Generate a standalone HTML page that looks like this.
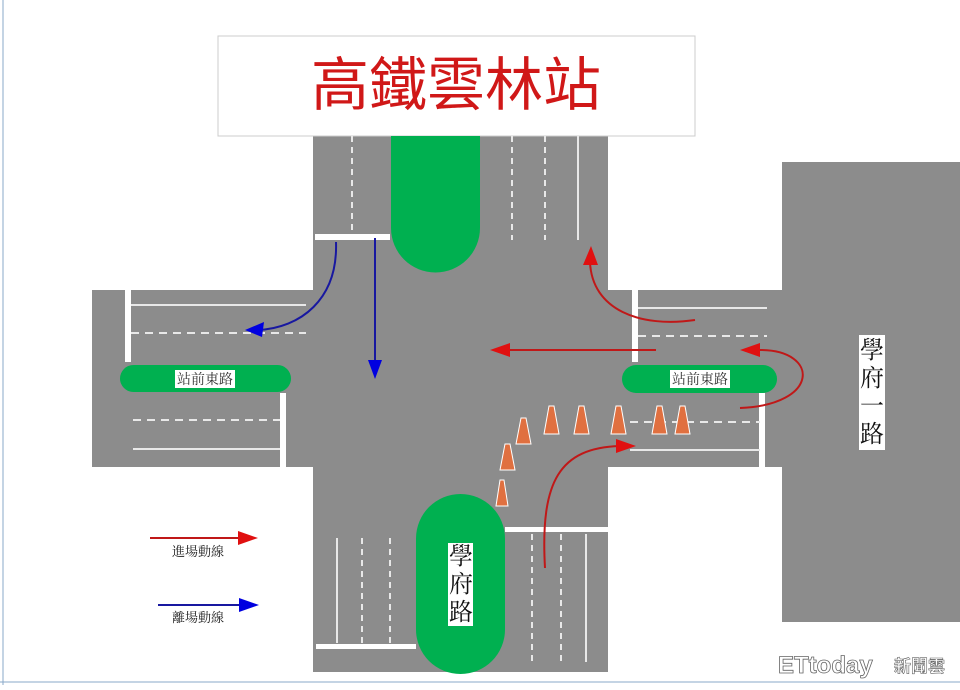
<!DOCTYPE html>
<html><head><meta charset="utf-8"><style>
body{margin:0;width:960px;height:685px;overflow:hidden;background:#fff;font-family:"Liberation Sans","Noto Sans CJK TC",sans-serif}
</style></head><body>
<svg width="960" height="685" viewBox="0 0 960 685" xmlns="http://www.w3.org/2000/svg" font-family="Liberation Serif, Noto Serif CJK SC, serif">
<line x1="3" y1="0" x2="3" y2="685" stroke="#8aa8c8"/>
<line x1="0" y1="682" x2="960" y2="682" stroke="#8aa8c8"/>
<g fill="#8c8c8c">
<rect x="313" y="136" width="295" height="536"/>
<rect x="92" y="290" width="690" height="177"/>
<rect x="782" y="162" width="178" height="460"/>
</g>
<rect x="218" y="36" width="477" height="100" fill="#fff" stroke="#ccc"/>
<text x="456" y="105" font-family="Liberation Sans, Noto Sans CJK TC, sans-serif" font-size="58" fill="#d01818" text-anchor="middle">高鐵雲林站</text>
<g fill="#fff">
<rect x="315" y="234" width="75" height="6"/>
<rect x="125" y="290" width="6" height="72"/>
<rect x="280" y="393" width="6" height="74"/>
<rect x="632" y="290" width="6" height="72"/>
<rect x="759" y="393" width="6" height="74"/>
<rect x="505" y="527" width="103" height="5"/>
<rect x="316" y="644" width="100" height="5"/>
</g>
<g stroke="#e8e8e8" stroke-width="2" fill="none">
<line x1="352" y1="136" x2="352" y2="234" stroke-dasharray="6,5"/>
<line x1="512" y1="136" x2="512" y2="240" stroke-dasharray="6,5"/>
<line x1="545" y1="136" x2="545" y2="240" stroke-dasharray="6,5"/>
<line x1="578" y1="136" x2="578" y2="240"/>
<line x1="337" y1="538" x2="337" y2="643"/>
<line x1="362" y1="538" x2="362" y2="643" stroke-dasharray="6,5"/>
<line x1="390" y1="538" x2="390" y2="643" stroke-dasharray="6,5"/>
<line x1="532" y1="534" x2="532" y2="662" stroke-dasharray="6,5"/>
<line x1="561" y1="534" x2="561" y2="662" stroke-dasharray="6,5"/>
<line x1="586" y1="534" x2="586" y2="662"/>
<line x1="131" y1="305" x2="306" y2="305"/>
<line x1="131" y1="333" x2="306" y2="333" stroke-dasharray="8,6"/>
<line x1="133" y1="420" x2="280" y2="420" stroke-dasharray="8,6"/>
<line x1="133" y1="449" x2="280" y2="449"/>
<line x1="638" y1="308" x2="767" y2="308"/>
<line x1="638" y1="336" x2="767" y2="336" stroke-dasharray="8,6"/>
<line x1="630" y1="422" x2="760" y2="422" stroke-dasharray="8,6"/>
<line x1="630" y1="450" x2="760" y2="450"/>
</g>
<g fill="#00b050">
<path d="M391,136 L480,136 L480,228 A44.5,44.5 0 0 1 391,228 Z"/>
<rect x="416" y="494" width="89" height="180" rx="44.5"/>
<rect x="120" y="365" width="171" height="27" rx="13.5"/>
<rect x="622" y="365" width="155" height="28" rx="14"/>
</g>
<rect x="175" y="370" width="60" height="18" fill="#fff"/>
<text x="205" y="384" font-size="14" text-anchor="middle" fill="#333">站前東路</text>
<rect x="670" y="370" width="60" height="18" fill="#fff"/>
<text x="700" y="384" font-size="14" text-anchor="middle" fill="#333">站前東路</text>
<rect x="448" y="543" width="25" height="83" fill="#fff"/>
<g font-size="24" fill="#111" text-anchor="middle"><text x="461" y="564">學</text><text x="461" y="592">府</text><text x="461" y="620">路</text></g>
<rect x="859" y="335" width="26" height="115" fill="#fff"/>
<g font-size="24" fill="#111" text-anchor="middle"><text x="872" y="358">學</text><text x="872" y="386">府</text><text x="872" y="414">一</text><text x="872" y="442">路</text></g>
<g fill="#e07040" stroke="#fff" stroke-width="1">
<path d="M496,506 L500,480 L504,480 L508,506 Z"/>
<path d="M500,470 L505,444 L510,444 L515,470 Z"/>
<path d="M516,444 L521,418 L526,418 L531,444 Z"/>
<path d="M544,434 L549,406 L554,406 L559,434 Z"/>
<path d="M574,434 L579,406 L584,406 L589,434 Z"/>
<path d="M611,434 L616,406 L621,406 L626,434 Z"/>
<path d="M652,434 L657,406 L662,406 L667,434 Z"/>
<path d="M675,434 L680,406 L685,406 L690,434 Z"/>
</g>
<g stroke="#c01818" stroke-width="2" fill="none">
<path d="M695,320 C640,328 592,310 590,262" />
<line x1="656" y1="350" x2="500" y2="350"/>
<path d="M740,408 C820,405 820,350 760,350"/>
<path d="M545,568 C540,480 560,448 620,446"/>
<line x1="150" y1="538" x2="245" y2="538"/>
</g>
<g fill="#e01010">
<path d="M583,265 L591,246 L598,265Z"/>
<path d="M490,350 L510,343 L510,357Z"/>
<path d="M740,350 L760,343 L760,357Z"/>
<path d="M636,446 L616,439 L616,453Z"/>
<path d="M258,538 L238,531 L238,545Z"/>
</g>
<g stroke="#1818a0" stroke-width="2" fill="none">
<path d="M336,242 C338,300 300,328 258,330"/>
<line x1="375" y1="238" x2="375" y2="362"/>
<line x1="158" y1="605" x2="245" y2="605"/>
</g>
<g fill="#0000e0">
<path d="M245,330 L264,322 L262,337Z"/>
<path d="M368,360 L382,360 L375,379Z"/>
<path d="M259,605 L239,598 L239,612Z"/>
</g>
<text x="172" y="556" font-size="13" fill="#222">進場動線</text>
<text x="172" y="622" font-size="13" fill="#222">離場動線</text>
<text x="778" y="673" font-family="Liberation Sans, sans-serif" font-size="24" font-weight="bold" fill="#fff" stroke="#666" stroke-width="0.8">ETtoday</text>
<text x="894" y="672" font-family="Liberation Sans, Noto Sans CJK TC, sans-serif" font-size="17" font-weight="bold" fill="#fff" stroke="#666" stroke-width="0.6">新聞雲</text>
</svg>
</body></html>
